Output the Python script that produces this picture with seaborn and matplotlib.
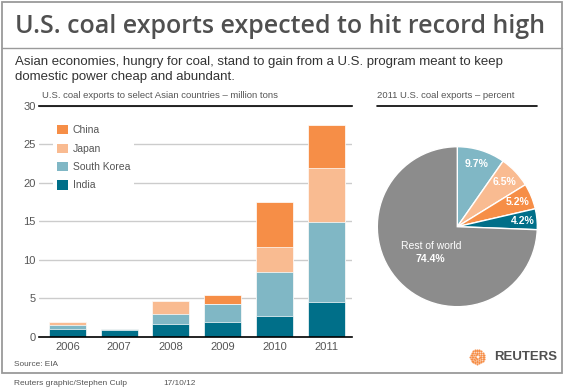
import numpy as np
import pandas as pd
import seaborn as sns
import matplotlib.pyplot as plt
from matplotlib.patches import Patch, Rectangle
from matplotlib.lines import Line2D

# ---- data (million tons) ----
years = ["2006", "2007", "2008", "2009", "2010", "2011"]
india = [1.0, 0.9, 1.65, 1.95, 2.7, 4.45]
south_korea = [0.5, 0.15, 1.35, 2.25, 5.75, 10.5]
japan = [0.4, 0.0, 1.65, 0.0, 3.2, 6.9]
china = [0.0, 0.0, 0.0, 1.2, 5.8, 5.6]

# 2011 share of U.S. coal exports, percent
pie_labels = ["South Korea", "Japan", "China", "India", "Rest of world"]
pie_values = [9.7, 6.5, 5.2, 4.2, 74.4]

colors = {
    "China": "#f68e47",
    "Japan": "#f9bb91",
    "South Korea": "#80b7c5",
    "India": "#006f89",
    "Rest of world": "#8c8c8c",
}

sns.set_style("white")
plt.rcParams["font.family"] = ["Liberation Sans", "DejaVu Sans"]

W, H = 564, 391
fig = plt.figure(figsize=(W / 100, H / 100), dpi=100)


def fx(x):
    return x / W


def fy(y):
    return 1 - y / H


def fit(t, width_px):
    r = fig.canvas.get_renderer()
    w = t.get_window_extent(r).width
    t.set_fontsize(t.get_fontsize() * width_px / w)


# ---- frame, title, subtitle ----
fig.patches.append(Rectangle((fx(2), fy(373)), fx(560), (373 - 2) / H, transform=fig.transFigure,
                             fill=False, edgecolor="#9a9a9a", lw=1.3))
fig.lines.append(Line2D([fx(2), fx(562)], [fy(47.7), fy(47.7)], transform=fig.transFigure,
                        color="#9a9a9a", lw=1))

title = fig.text(fx(14.7), fy(33.3), "U.S. coal exports expected to hit record high",
                 family=["Open Sans", "DejaVu Sans"], fontweight="semibold", fontsize=18,
                 color="#505050", va="baseline")
fit(title, 531)

sub1 = fig.text(fx(14.7), fy(64.5), "Asian economies, hungry for coal, stand to gain from a U.S. program meant to keep",
                fontsize=9.5, color="#333333", va="baseline")
fit(sub1, 488)
fig.text(fx(14.7), fy(80), "domestic power cheap and abundant.", fontsize=sub1.get_fontsize(),
         color="#333333", va="baseline")

# ---- stacked bars ----
df = pd.DataFrame({"year": years, "India": india, "South Korea": south_korea,
                   "Japan": japan, "China": china})
stack_order = ["India", "South Korea", "Japan", "China"]
cum = df[stack_order].cumsum(axis=1)

ax = fig.add_axes([fx(39), fy(336.7), (352 - 39) / W, (336.7 - 105.7) / H])
for name in reversed(stack_order):
    sns.barplot(x=df["year"], y=cum[name], color=colors[name], saturation=1, width=0.716,
                edgecolor="white", linewidth=0.5, ax=ax)

ax.set_xlim(-0.551, 5.5)
ax.set_ylim(0, 30)
ax.set_yticks(range(0, 31, 5))
ax.set_xlabel("")
ax.set_ylabel("")
ax.set_axisbelow(True)
ax.yaxis.grid(True, color="#cccccc", lw=1)
for s in ["left", "right"]:
    ax.spines[s].set_visible(False)
for s in ["top", "bottom"]:
    ax.spines[s].set_visible(True)
    ax.spines[s].set_color("black")
    ax.spines[s].set_linewidth(1.2)
ax.tick_params(axis="y", length=0, pad=2.2, labelsize=8, labelcolor="#555555")
ax.tick_params(axis="x", length=0, pad=3.5, labelsize=8, labelcolor="#555555")

handles = [Patch(facecolor=colors[n], edgecolor="none") for n in ["China", "Japan", "South Korea", "India"]]
leg = ax.legend(handles, ["China", "Japan", "South Korea", "India"], loc="upper left",
                bbox_to_anchor=(fx(53), fy(121)), bbox_transform=fig.transFigure,
                frameon=True, facecolor="white", edgecolor="none", framealpha=1, fancybox=False,
                fontsize=7.5, labelcolor="#555555", handlelength=1.0, handleheight=1.0,
                handletextpad=0.5, labelspacing=0.78, borderpad=0.4, borderaxespad=0)

fig.text(fx(41.7), fy(95), "U.S. coal exports to select Asian countries \u2013 million tons",
         fontsize=6.8, color="#555555", va="center")

# ---- pie ----
pax = fig.add_axes([fx(457.3 - 80), fy(226.7 + 80), 160 / W, 160 / H])
wedges, _, autotexts = pax.pie(pie_values, colors=[colors[n] for n in pie_labels], startangle=90,
                               counterclock=False, autopct="%.1f%%", pctdistance=0.82,
                               wedgeprops=dict(edgecolor="white", linewidth=1),
                               textprops=dict(color="white", fontweight="bold", fontsize=7.5))
pax.set_xlim(-1, 1)
pax.set_ylim(-1, 1)
pax.set_aspect("equal")

rest = wedges[-1]
ang = np.deg2rad((rest.theta1 + rest.theta2) / 2)
rx, ry = 0.46 * np.cos(ang), 0.46 * np.sin(ang)
autotexts[-1].set_position((rx, ry - 0.08))
pax.text(rx, ry + 0.08, "Rest of world", color="white", fontsize=7.5, ha="center", va="center")

fig.text(fx(377.3), fy(95), "2011 U.S. coal exports \u2013 percent", fontsize=6.8,
         color="#555555", va="center")
fig.lines.append(Line2D([fx(377.3), fx(537)], [fy(105.7), fy(105.7)], transform=fig.transFigure,
                        color="black", lw=1.2))

# ---- footer ----
src = fig.text(fx(14), fy(365), "Source: EIA", fontsize=7, color="#555555", va="center")
fit(src, 44)
cred = fig.text(fx(14), fy(383.3), "Reuters graphic/Stephen Culp", fontsize=7, color="#555555", va="center")
fit(cred, 112)
date = fig.text(fx(163), fy(383.3), "17/10/12", fontsize=7, color="#555555", va="center")
fit(date, 32)

# Reuters logo: dotted orange disc + wordmark
lax = fig.add_axes([fx(477.3 - 8), fy(356.7 + 8), 16 / W, 16 / H])
for r, n in [(0.35, 8), (0.6, 12), (0.82, 16), (1.0, 20)]:
    th = np.linspace(0, 2 * np.pi, n, endpoint=False)
    lax.scatter(r * np.cos(th), r * np.sin(th), s=2.2, color="#f68e47", lw=0)
lax.set_xlim(-1.15, 1.15)
lax.set_ylim(-1.15, 1.15)
lax.axis("off")
logo = fig.text(fx(494.3), fy(356.7), "REUTERS", fontsize=8.5, fontweight="bold",
                color="#505050", va="center")
fit(logo, 63)

fig.savefig("out.png", dpi=100)
